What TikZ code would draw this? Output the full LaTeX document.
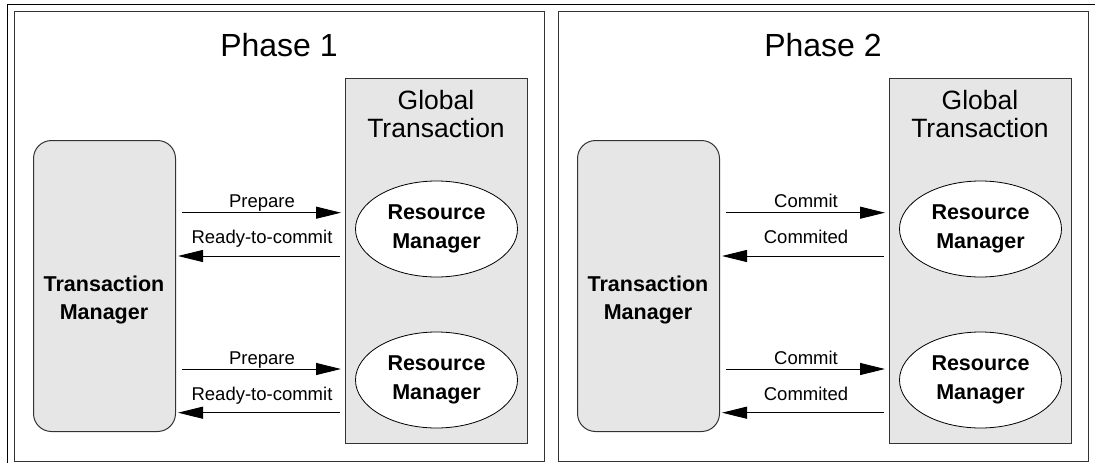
\documentclass[tikz,border=0pt]{standalone}
\usepackage{fontspec}
\setmainfont{Liberation Sans}
\usetikzlibrary{shapes.geometric,arrows.meta}
\definecolor{boxgray}{HTML}{E6E6E6}
\definecolor{edgegray}{HTML}{333333}
\tikzset{
  panel/.style={draw=edgegray,line width=1.3pt},
  gtbox/.style={draw=edgegray,fill=boxgray,line width=1pt},
  tmbox/.style={draw=edgegray,fill=boxgray,line width=1pt,rounded corners=18pt},
  rmnode/.style={ellipse,draw=black,fill=white,line width=0.8pt,minimum width=162pt,minimum height=96pt,inner sep=0pt,align=center,font=\fontsize{21.5}{29}\selectfont\bfseries},
  titletext/.style={font=\fontsize{32}{36}\selectfont,inner sep=0pt},
  gttext/.style={font=\fontsize{26.5}{28}\selectfont,align=center,inner sep=0pt},
  tmtext/.style={font=\fontsize{21.5}{28}\selectfont\bfseries,align=center,inner sep=0pt},
  lbl/.style={font=\fontsize{18.5}{20}\selectfont,inner sep=0pt,anchor=base},
  msg/.style={line width=1pt,-{Triangle[length=25pt,width=12pt]}},
}
\begin{document}
\begin{tikzpicture}[x=1pt,y=-1pt]
\useasboundingbox (0,0) rectangle (1095,463);
% outer frame lines
\coordinate (fA) at (7,463);
\coordinate (fB) at (7,4);
\coordinate (fC) at (1095,4);
\draw[line width=1pt,black] (fA) -- (fB) -- (fC);
\foreach \p/\o/\ttl/\la/\lb in {1/0/Phase 1/Prepare/Ready-to-commit, 2/544/Phase 2/Commit/Commited}{
  % panel
  \node[panel,inner sep=0pt,minimum width=529.5pt,minimum height=450pt,anchor=north west] (panel\p) at (14+\o,11) {};
  \node[titletext] (title\p) at (279+\o,45) {\ttl};
  % global transaction box
  \node[gtbox,inner sep=0pt,minimum width=182pt,minimum height=365pt,anchor=north west] (gt\p) at (345+\o,78) {};
  \node[gttext] (gtt\p) at (436+\o,114) {Global\\Transaction};
  % resource managers
  \node[rmnode] (rma\p) at (436.5+\o,229) {Resource\\Manager};
  \node[rmnode] (rmb\p) at (436.5+\o,380) {Resource\\Manager};
  % transaction manager
  \node[tmbox,inner sep=0pt,minimum width=142pt,minimum height=291pt,anchor=north west] (tm\p) at (33+\o,140) {};
  \node[tmtext] (tmt\p) at (104+\o,300) {Transaction\\Manager};
  % arrow end points
  \coordinate (a\p s) at (182+\o,212.7);
  \coordinate (a\p e) at (341+\o,212.7);
  \coordinate (b\p s) at (340+\o,256);
  \coordinate (b\p e) at (178+\o,256);
  \coordinate (c\p s) at (182+\o,369);
  \coordinate (c\p e) at (341+\o,369);
  \coordinate (d\p s) at (340+\o,412.7);
  \coordinate (d\p e) at (178+\o,412.7);
  \draw[msg] (a\p s) -- (a\p e);
  \draw[msg] (b\p s) -- (b\p e);
  \draw[msg] (c\p s) -- (c\p e);
  \draw[msg] (d\p s) -- (d\p e);
  \node[lbl] (la\p) at (262+\o,207.3) {\la};
  \node[lbl] (lb\p) at (262+\o,243.5) {\lb};
  \node[lbl] (lc\p) at (262+\o,364) {\la};
  \node[lbl] (ld\p) at (262+\o,400.5) {\lb};
}
\end{tikzpicture}
\end{document}
